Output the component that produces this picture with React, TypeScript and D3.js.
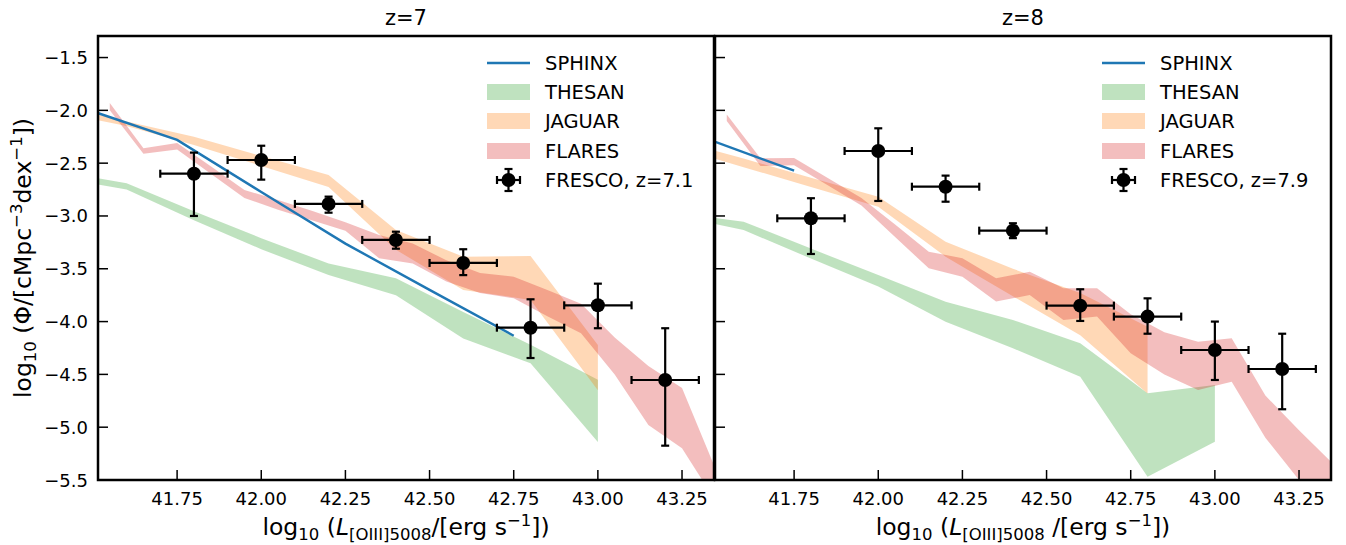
import React from "react";
import * as d3 from "d3";

// ---------- data ----------
const xTicks = [41.75, 42.0, 42.25, 42.5, 42.75, 43.0, 43.25];
const yTicks = [-1.5, -2.0, -2.5, -3.0, -3.5, -4.0, -4.5, -5.0, -5.5];
const panelTitles = ["z=7", "z=8"];
const frescoLabels = ["FRESCO, z=7.1", "FRESCO, z=7.9"];
const legendLabels = ["SPHINX", "THESAN", "JAGUAR", "FLARES"];

// SPHINX
const sphinxZ7X = [41.5, 41.75, 42.0, 42.25, 42.5, 42.75];
const sphinxZ7Y = [-2.01, -2.28, -2.773, -3.262, -3.70, -4.134];
const sphinxZ8X = [41.5, 41.75];
const sphinxZ8Y = [-2.28, -2.571];

// THESAN
const thesanX = [41.4, 41.6, 41.8, 42.0, 42.2, 42.4, 42.6, 42.8, 43.0];
const thesanZ7Hi = [-2.58, -2.69, -2.955, -3.21, -3.45, -3.59, -3.91, -4.22, -4.55];
const thesanZ7Lo = [-2.64, -2.75, -3.04, -3.315, -3.56, -3.75, -4.16, -4.395, -5.14];
const thesanZ8Hi = [-2.97, -3.054, -3.309, -3.559, -3.812, -3.985, -4.205, -4.679, -4.6];
const thesanZ8Lo = [-3.0, -3.133, -3.403, -3.669, -4.001, -4.253, -4.522, -5.469, -5.137];

// JAGUAR
const jaguarZ7X = [41.4, 41.6, 41.8, 42.0, 42.2, 42.4, 42.6, 42.8, 43.0];
const jaguarZ7Hi = [-1.95, -2.106, -2.249, -2.432, -2.612, -3.133, -3.385, -3.379, -4.222];
const jaguarZ7Lo = [-2.02, -2.148, -2.328, -2.527, -2.725, -3.32, -3.7, -3.795, -4.65];
const jaguarZ8X = [41.4, 41.6, 41.8, 42.0, 42.2, 42.4, 42.6, 42.8];
const jaguarZ8Hi = [-2.28, -2.457, -2.637, -2.817, -3.243, -3.5, -3.73, -4.05];
const jaguarZ8Lo = [-2.35, -2.538, -2.725, -2.912, -3.385, -3.76, -4.13, -4.68];

// FLARES
const flaresX = [41.55, 41.65, 41.75, 41.85, 41.95, 42.05, 42.15, 42.25, 42.35, 42.45, 42.55, 42.65, 42.75, 42.85, 42.95, 43.05, 43.15, 43.25, 43.35, 43.45];
const flaresZ7Hi = [-1.93, -2.36, -2.31, -2.53, -2.754, -2.85, -2.95, -3.06, -3.18, -3.26, -3.42, -3.54, -3.575, -3.7, -3.83, -4.15, -4.42, -4.63, -5.4, -5.9];
const flaresZ7Lo = [-2.0, -2.41, -2.37, -2.6, -2.83, -2.94, -3.04, -3.14, -3.4, -3.45, -3.62, -3.73, -3.78, -3.95, -4.11, -4.5, -4.98, -5.2, -5.7, -6.2];
const flaresZ8Hi = [-2.04, -2.454, -2.45, -2.64, -2.83, -3.08, -3.338, -3.4, -3.59, -3.528, -3.685, -3.685, -3.93, -4.1, -4.19, -4.158, -4.7, -5.03, -5.342, -5.7];
const flaresZ8Lo = [-2.1, -2.527, -2.52, -2.71, -2.9, -3.2, -3.495, -3.575, -3.81, -3.748, -3.985, -3.953, -4.3, -4.5, -4.648, -4.569, -5.1, -5.5, -5.88, -6.2];

// FRESCO
const frescoX = [41.8, 42.0, 42.2, 42.4, 42.6, 42.8, 43.0, 43.2];
const frescoXErr = [0.1, 0.1, 0.1, 0.1, 0.1, 0.1, 0.1, 0.1];
const frescoZ7Y = [-2.6, -2.47, -2.886, -3.227, -3.445, -4.058, -3.846, -4.553];
const frescoZ7Hi = [-2.4, -2.335, -2.817, -3.149, -3.315, -3.789, -3.641, -4.063];
const frescoZ7Lo = [-3.0, -2.656, -2.969, -3.31, -3.56, -4.345, -4.063, -5.175];
const frescoZ8Y = [-3.022, -2.385, -2.723, -3.139, -3.849, -3.953, -4.269, -4.449];
const frescoZ8Hi = [-2.832, -2.17, -2.618, -3.069, -3.694, -3.78, -4.0, -4.115];
const frescoZ8Lo = [-3.36, -2.858, -2.865, -3.21, -3.994, -4.115, -4.553, -4.83];

// ---------- layout ----------
const W = 1346;
const H = 545;
const TOP = 36;
const PH = 444;
const PW = 616;
const LEFTS = [98, 715];
const FONT = "DejaVu Sans, sans-serif";
const C_BLUE = "#1f77b4";
const C_GREEN = "#2ca02c";
const C_ORANGE = "#ff7f0e";
const C_RED = "#d62728";
const TICK_FS = 18;
const LEG_FS = 19.5;
const TITLE_FS = 21;
const LAB_FS = 23.5;
const LAB_SUB = 16.5;

const xScale = d3.scaleLinear().domain([41.515, 43.345]).range([0, PW]);
const yScale = d3.scaleLinear().domain([-5.5, -1.296]).range([PH, 0]);

type Band = { x: number[]; hi: number[]; lo: number[] };

function bandPath(b: Band) {
  const pts = b.x.map((x, i) => ({ x, hi: b.hi[i], lo: b.lo[i] }));
  return (
    d3
      .area<{ x: number; hi: number; lo: number }>()
      .x((d) => xScale(d.x))
      .y0((d) => yScale(d.lo))
      .y1((d) => yScale(d.hi))(pts) || ""
  );
}

function linePath(xs: number[], ys: number[]) {
  return (
    d3
      .line<number>()
      .x((_, i) => xScale(xs[i]))
      .y((d) => yScale(d))(ys) || ""
  );
}

function fmtY(t: number) {
  return (t < 0 ? "\u2212" : "") + Math.abs(t).toFixed(1);
}

function Panel(props: {
  idx: number;
  sphinx: { x: number[]; y: number[] };
  thesan: Band;
  jaguar: Band;
  flares: Band;
  fy: number[];
  fhi: number[];
  flo: number[];
}) {
  const { idx } = props;
  const left = LEFTS[idx];
  const clipId = `clip${idx}`;
  const legX = idx === 0 ? 487 - left : 1102 - left;
  const legY = [63, 92, 121, 151, 180].map((v) => v - TOP);
  const cap = 4;
  return (
    <g transform={`translate(${left},${TOP})`}>
      <defs>
        <clipPath id={clipId}>
          <rect x={0} y={0} width={PW} height={PH} />
        </clipPath>
      </defs>
      <g clipPath={`url(#${clipId})`}>
        <path d={bandPath(props.thesan)} fill={C_GREEN} fillOpacity={0.3} />
        <path d={bandPath(props.jaguar)} fill={C_ORANGE} fillOpacity={0.3} />
        <path d={bandPath(props.flares)} fill={C_RED} fillOpacity={0.3} />
        <path d={linePath(props.sphinx.x, props.sphinx.y)} fill="none" stroke={C_BLUE} strokeWidth={2.4} />
        {frescoX.map((xv, i) => {
          const cx = xScale(xv);
          const cy = yScale(props.fy[i]);
          const x0 = xScale(xv - frescoXErr[i]);
          const x1 = xScale(xv + frescoXErr[i]);
          const y0 = yScale(props.fhi[i]);
          const y1 = yScale(props.flo[i]);
          return (
            <g key={i} stroke="#000" strokeWidth={2.2}>
              <line x1={x0} x2={x1} y1={cy} y2={cy} />
              <line x1={cx} x2={cx} y1={y0} y2={y1} />
              <line x1={x0} x2={x0} y1={cy - cap} y2={cy + cap} />
              <line x1={x1} x2={x1} y1={cy - cap} y2={cy + cap} />
              <line x1={cx - cap} x2={cx + cap} y1={y0} y2={y0} />
              <line x1={cx - cap} x2={cx + cap} y1={y1} y2={y1} />
              <circle cx={cx} cy={cy} r={7} fill="#000" stroke="none" />
            </g>
          );
        })}
      </g>
      {/* ticks */}
      {yTicks.map((t) => (
        <line key={"yt" + t} x1={0} x2={10} y1={yScale(t)} y2={yScale(t)} stroke="#000" strokeWidth={1.5} />
      ))}
      {xTicks.map((t) => (
        <line key={"xt" + t} x1={xScale(t)} x2={xScale(t)} y1={PH} y2={PH - 10} stroke="#000" strokeWidth={1.5} />
      ))}
      {xTicks.map((t) => (
        <text key={"xl" + t} x={xScale(t)} y={PH + 25} textAnchor="middle" fontFamily={FONT} fontSize={TICK_FS} fill="#000">
          {t.toFixed(2)}
        </text>
      ))}
      {idx === 0 &&
        yTicks.map((t) => (
          <text key={"yl" + t} x={-10} y={yScale(t) + 6.5} textAnchor="end" fontFamily={FONT} fontSize={TICK_FS} fill="#000">
            {fmtY(t)}
          </text>
        ))}
      <rect x={0} y={0} width={PW} height={PH} fill="none" stroke="#000" strokeWidth={2.5} />
      {/* title */}
      <text x={PW / 2} y={-11} textAnchor="middle" fontFamily={FONT} fontSize={TITLE_FS} fill="#000">
        {panelTitles[idx]}
      </text>
      {/* x label */}
      <text x={PW / 2} y={PH + 55} textAnchor="middle" fontFamily={FONT} fontSize={LAB_FS} fill="#000" style={{ whiteSpace: "pre" }}>
        log<tspan dy={5} fontSize={LAB_SUB}>10</tspan>
        <tspan dy={-5}> (</tspan>
        <tspan fontStyle="italic">L</tspan>
        <tspan dy={5} fontSize={LAB_SUB}>[OIII]5008</tspan>
        <tspan dy={-5}>{idx === 0 ? "/[erg s" : " /[erg s"}</tspan>
        <tspan dy={-9} fontSize={LAB_SUB}>{"\u22121"}</tspan>
        <tspan dy={9}>])</tspan>
      </text>
      {/* legend */}
      <g fontFamily={FONT} fontSize={LEG_FS} fill="#000">
        <line x1={legX} x2={legX + 43} y1={legY[0]} y2={legY[0]} stroke={C_BLUE} strokeWidth={2.4} />
        <rect x={legX} y={legY[1] - 8} width={43} height={16} fill={C_GREEN} fillOpacity={0.3} />
        <rect x={legX} y={legY[2] - 8} width={43} height={16} fill={C_ORANGE} fillOpacity={0.3} />
        <rect x={legX} y={legY[3] - 8} width={43} height={16} fill={C_RED} fillOpacity={0.3} />
        <g stroke="#000" strokeWidth={2.2}>
          <line x1={legX + 10} x2={legX + 33} y1={legY[4]} y2={legY[4]} />
          <line x1={legX + 21.5} x2={legX + 21.5} y1={legY[4] - 11} y2={legY[4] + 11} />
          <line x1={legX + 10} x2={legX + 10} y1={legY[4] - 4} y2={legY[4] + 4} />
          <line x1={legX + 33} x2={legX + 33} y1={legY[4] - 4} y2={legY[4] + 4} />
          <line x1={legX + 17.5} x2={legX + 25.5} y1={legY[4] - 11} y2={legY[4] - 11} />
          <line x1={legX + 17.5} x2={legX + 25.5} y1={legY[4] + 11} y2={legY[4] + 11} />
          <circle cx={legX + 21.5} cy={legY[4]} r={7} fill="#000" stroke="none" />
        </g>
        {legendLabels.map((l, i) => (
          <text key={l} x={legX + 58} y={legY[i] + 7}>
            {l}
          </text>
        ))}
        <text x={legX + 58} y={legY[4] + 7}>
          {frescoLabels[idx]}
        </text>
      </g>
    </g>
  );
}

export default function App() {
  return (
    <svg width={W} height={H} style={{ position: "absolute", left: 0, top: 0, background: "#fff" }}>
      <rect x={0} y={0} width={W} height={H} fill="#fff" />
      <Panel
        idx={0}
        sphinx={{ x: sphinxZ7X, y: sphinxZ7Y }}
        thesan={{ x: thesanX, hi: thesanZ7Hi, lo: thesanZ7Lo }}
        jaguar={{ x: jaguarZ7X, hi: jaguarZ7Hi, lo: jaguarZ7Lo }}
        flares={{ x: flaresX, hi: flaresZ7Hi, lo: flaresZ7Lo }}
        fy={frescoZ7Y}
        fhi={frescoZ7Hi}
        flo={frescoZ7Lo}
      />
      <Panel
        idx={1}
        sphinx={{ x: sphinxZ8X, y: sphinxZ8Y }}
        thesan={{ x: thesanX, hi: thesanZ8Hi, lo: thesanZ8Lo }}
        jaguar={{ x: jaguarZ8X, hi: jaguarZ8Hi, lo: jaguarZ8Lo }}
        flares={{ x: flaresX, hi: flaresZ8Hi, lo: flaresZ8Lo }}
        fy={frescoZ8Y}
        fhi={frescoZ8Hi}
        flo={frescoZ8Lo}
      />
      <text
        transform="translate(31,258) rotate(-90)"
        textAnchor="middle"
        fontFamily={FONT}
        fontSize={LAB_FS}
        fill="#000"
        style={{ whiteSpace: "pre" }}
      >
        log<tspan dy={5} fontSize={LAB_SUB}>10</tspan>
        <tspan dy={-5}> (Φ/[cMpc</tspan>
        <tspan dy={-9} fontSize={LAB_SUB}>{"\u22123"}</tspan>
        <tspan dy={9}>dex</tspan>
        <tspan dy={-9} fontSize={LAB_SUB}>{"\u22121"}</tspan>
        <tspan dy={9}>])</tspan>
      </text>
    </svg>
  );
}
